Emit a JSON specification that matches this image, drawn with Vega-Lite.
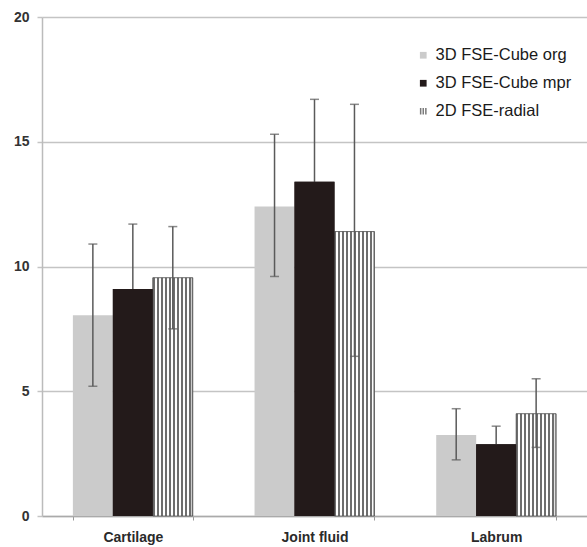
{
  "$schema": "https://vega.github.io/schema/vega-lite/v6.json",
  "autosize": "none",
  "width": 545,
  "height": 499,
  "padding": {"left": 42, "top": 17, "right": 0, "bottom": 31},
  "background": "white",
  "data": {
    "values": [
      {"category": "Cartilage", "series": "3D FSE-Cube org", "mean": 8.05, "lo": 5.2, "hi": 10.9},
      {"category": "Cartilage", "series": "3D FSE-Cube mpr", "mean": 9.1, "lo": 6.5, "hi": 11.7},
      {"category": "Cartilage", "series": "2D FSE-radial", "mean": 9.55, "lo": 7.5, "hi": 11.6},
      {"category": "Joint fluid", "series": "3D FSE-Cube org", "mean": 12.4, "lo": 9.6, "hi": 15.3},
      {"category": "Joint fluid", "series": "3D FSE-Cube mpr", "mean": 13.4, "lo": 10.1, "hi": 16.7},
      {"category": "Joint fluid", "series": "2D FSE-radial", "mean": 11.4, "lo": 6.4, "hi": 16.5},
      {"category": "Labrum", "series": "3D FSE-Cube org", "mean": 3.25, "lo": 2.25, "hi": 4.3},
      {"category": "Labrum", "series": "3D FSE-Cube mpr", "mean": 2.88, "lo": 2.2, "hi": 3.6},
      {"category": "Labrum", "series": "2D FSE-radial", "mean": 4.1, "lo": 2.75, "hi": 5.5}
    ]
  },
  "encoding": {
    "x": {
      "field": "category", "type": "nominal", "sort": ["Cartilage", "Joint fluid", "Labrum"],
      "scale": {"paddingInner": 0.34, "paddingOuter": 0.17},
      "axis": {"title": null, "labelAngle": 0, "labelFont": "Liberation Sans", "labelFontSize": 14, "labelFontWeight": "bold", "labelColor": "#2a2a2a", "labelPadding": 10, "ticks": true, "tickBand": "extent", "tickSize": 4, "tickColor": "#999", "domainColor": "#aaa", "domainWidth": 1.5}
    },
    "xOffset": {"field": "series", "type": "nominal", "sort": ["3D FSE-Cube org", "3D FSE-Cube mpr", "2D FSE-radial"], "scale": {"paddingInner": 0, "paddingOuter": 0}}
  },
  "layer": [
    {
      "mark": {"type": "bar"},
      "encoding": {
        "y": {"field": "mean", "type": "quantitative", "scale": {"domain": [0, 20]},
          "axis": {"title": null, "values": [0, 5, 10, 15, 20], "grid": true, "gridColor": "#c4c4c4", "gridWidth": 1.5, "tickColor": "#c4c4c4", "tickSize": 5, "tickWidth": 1.5, "domainColor": "#bbb", "domainWidth": 1.5, "labelFont": "Liberation Sans", "labelFontSize": 14, "labelFontWeight": "bold", "labelColor": "#333", "labelPadding": 8}},
        "color": {"field": "series", "type": "nominal", "sort": ["3D FSE-Cube org", "3D FSE-Cube mpr", "2D FSE-radial"],
          "scale": {"domain": ["3D FSE-Cube org", "3D FSE-Cube mpr", "2D FSE-radial"], "range": ["#cbcbcb", "#231a1a", "#7a7a7a"]},
          "legend": {"orient": "none", "legendX": 373, "legendY": 30, "title": null, "labelFont": "Liberation Sans", "labelFontSize": 16.5, "labelColor": "#1a1a1a", "symbolSize": 45, "rowPadding": 11, "labelOffset": 4,
            "encode": {"symbols": {"update": {"shape": {"signal": "datum.value === '2D FSE-radial' ? 'M-1,-1H-0.55V1H-1Z M-0.22,-1H0.22V1H-0.22Z M0.55,-1H1V1H0.55Z' : 'square'"}}}}}}
      }
    },
    {
      "transform": [{"filter": "datum.series === '2D FSE-radial'"}],
      "mark": {"type": "bar", "stroke": "#555", "strokeWidth": 0.8,
        "fill": {"gradient": "linear", "x1": 0, "y1": 0, "x2": 1, "y2": 0, "stops": [
          {"offset": 0, "color": "#6e6e6e"}, {"offset": 0.05, "color": "#6e6e6e"}, {"offset": 0.05, "color": "#ffffff"}, {"offset": 0.1, "color": "#ffffff"},
          {"offset": 0.1, "color": "#6e6e6e"}, {"offset": 0.15, "color": "#6e6e6e"}, {"offset": 0.15, "color": "#ffffff"}, {"offset": 0.2, "color": "#ffffff"},
          {"offset": 0.2, "color": "#6e6e6e"}, {"offset": 0.25, "color": "#6e6e6e"}, {"offset": 0.25, "color": "#ffffff"}, {"offset": 0.3, "color": "#ffffff"},
          {"offset": 0.3, "color": "#6e6e6e"}, {"offset": 0.35, "color": "#6e6e6e"}, {"offset": 0.35, "color": "#ffffff"}, {"offset": 0.4, "color": "#ffffff"},
          {"offset": 0.4, "color": "#6e6e6e"}, {"offset": 0.45, "color": "#6e6e6e"}, {"offset": 0.45, "color": "#ffffff"}, {"offset": 0.5, "color": "#ffffff"},
          {"offset": 0.5, "color": "#6e6e6e"}, {"offset": 0.55, "color": "#6e6e6e"}, {"offset": 0.55, "color": "#ffffff"}, {"offset": 0.6, "color": "#ffffff"},
          {"offset": 0.6, "color": "#6e6e6e"}, {"offset": 0.65, "color": "#6e6e6e"}, {"offset": 0.65, "color": "#ffffff"}, {"offset": 0.7, "color": "#ffffff"},
          {"offset": 0.7, "color": "#6e6e6e"}, {"offset": 0.75, "color": "#6e6e6e"}, {"offset": 0.75, "color": "#ffffff"}, {"offset": 0.8, "color": "#ffffff"},
          {"offset": 0.8, "color": "#6e6e6e"}, {"offset": 0.85, "color": "#6e6e6e"}, {"offset": 0.85, "color": "#ffffff"}, {"offset": 0.9, "color": "#ffffff"},
          {"offset": 0.9, "color": "#6e6e6e"}, {"offset": 0.95, "color": "#6e6e6e"}, {"offset": 0.95, "color": "#ffffff"}, {"offset": 1, "color": "#6e6e6e"}
        ]}},
      "encoding": {
        "y": {"field": "mean", "type": "quantitative"}
      }
    },
    {
      "mark": {"type": "rule", "color": "#5a5a5a", "strokeWidth": 1.5},
      "encoding": {
        "y": {"field": "lo", "type": "quantitative"},
        "y2": {"field": "hi"}
      }
    },
    {
      "mark": {"type": "tick", "color": "#5a5a5a", "thickness": 1.5, "size": 9},
      "encoding": {
        "y": {"field": "hi", "type": "quantitative"}
      }
    },
    {
      "mark": {"type": "tick", "color": "#5a5a5a", "thickness": 1.5, "size": 9},
      "encoding": {
        "y": {"field": "lo", "type": "quantitative"}
      }
    },
    {
      "transform": [{"filter": "datum.series === '3D FSE-Cube mpr'"}],
      "mark": {"type": "bar", "fill": "#231a1a"},
      "encoding": {
        "y": {"field": "mean", "type": "quantitative"}
      }
    }
  ],
  "config": {
    "view": {"stroke": null},
    "axis": {"labelFont": "Liberation Sans"}
  }
}
